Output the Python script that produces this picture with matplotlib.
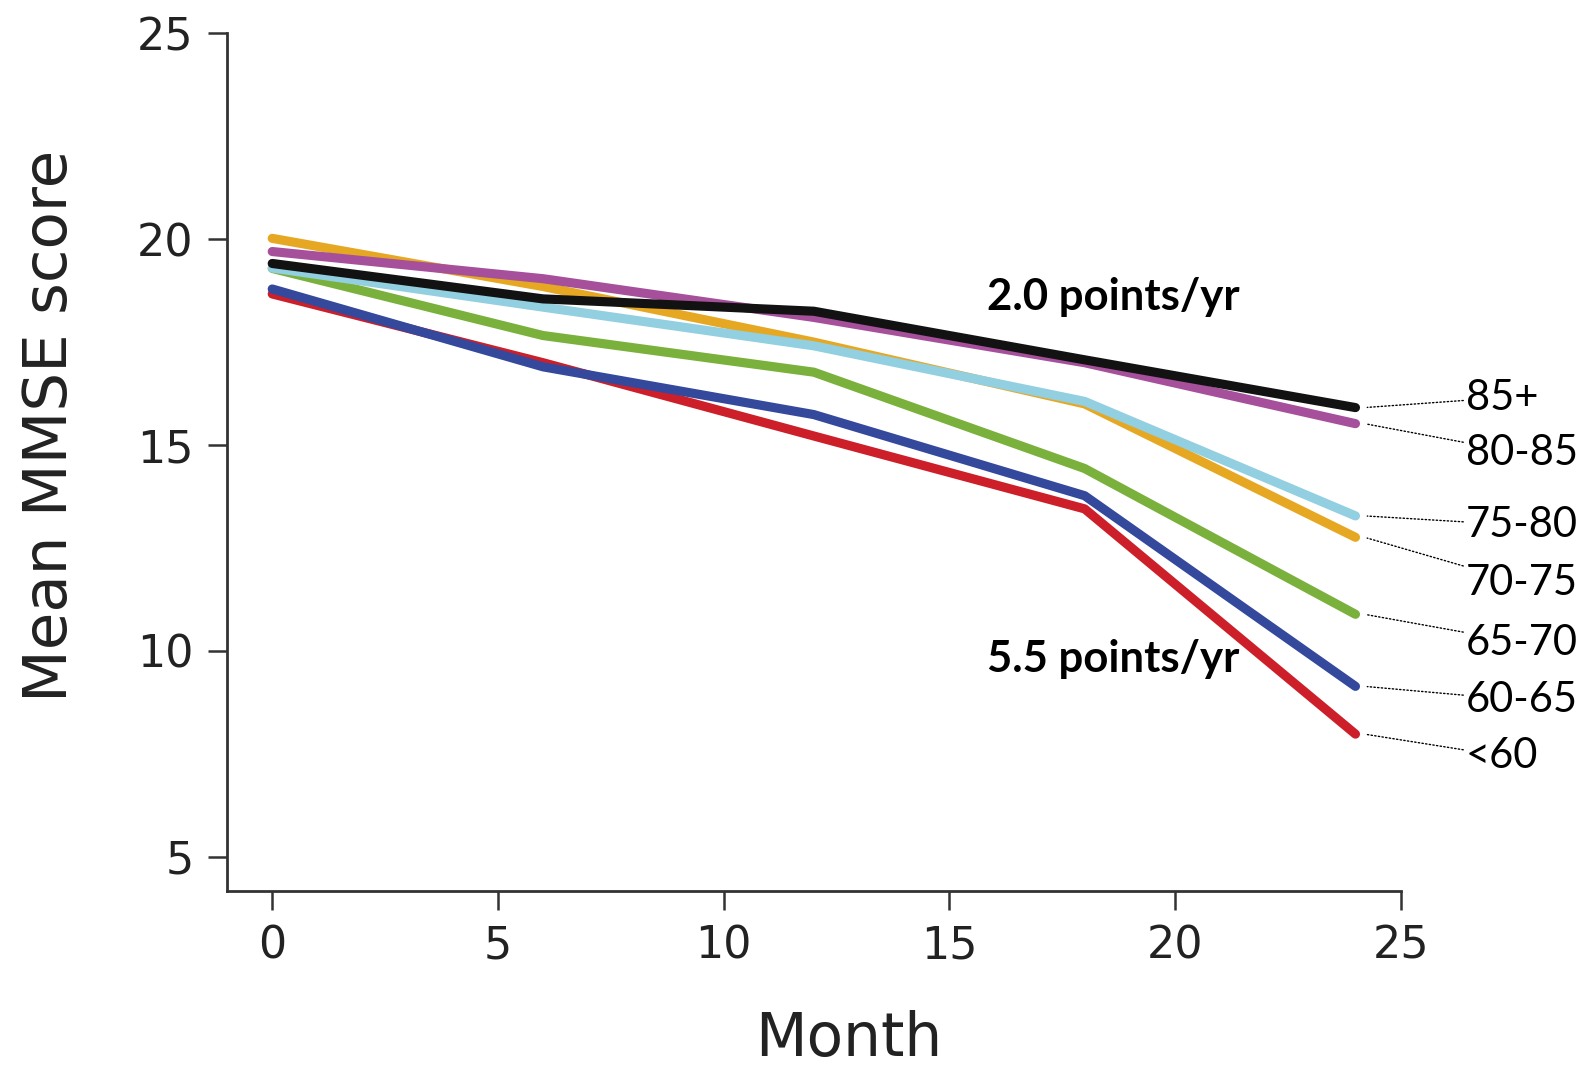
import numpy as np
import matplotlib.pyplot as plt

#============================================================
# Mean MMSE score over time by age group
#============================================================
months = [0, 6, 12, 18, 24]
groups = ['<60', '60-65', '65-70', '70-75', '75-80', '80-85', '85+']
scores = {
    '<60':   [18.67, 17.00, 15.22, 13.45, 7.98],
    '60-65': [18.79, 16.90, 15.74, 13.77, 9.14],
    '65-70': [19.29, 17.66, 16.77, 14.43, 10.89],
    '70-75': [20.02, 18.85, 17.50, 16.00, 12.76],
    '75-80': [19.30, 18.35, 17.41, 16.06, 13.28],
    '80-85': [19.70, 19.04, 18.10, 17.00, 15.52],
    '85+':   [19.41, 18.55, 18.25, 17.07, 15.91],
}
colors = {
    '<60': '#cc1f2a',
    '60-65': '#34489c',
    '65-70': '#7ab03c',
    '70-75': '#e6a823',
    '75-80': '#92cfe0',
    '80-85': '#a6509c',
    '85+': '#121212',
}
# y position of each right-hand label
label_y = [7.45, 8.8, 10.2, 11.65, 13.05, 14.8, 16.15]
rate_texts = ['2.0 points/yr', '5.5 points/yr']
rate_y = [18.6, 9.8]

fig = plt.figure(figsize=(15.88, 10.74), dpi=100)
ax = fig.add_axes([0.143, 0.170, 0.739, 0.799])

for g in groups:
    ax.plot(months, scores[g], color=colors[g], lw=6.6,
            solid_capstyle='round', solid_joinstyle='round')

# leader lines + labels
for g, ly in zip(groups, label_y):
    ax.annotate(g, xy=(24.2, scores[g][-1]), xytext=(26.45, ly),
                textcoords='data', fontsize=30, family='Lato',
                va='center', ha='left', annotation_clip=False,
                arrowprops=dict(arrowstyle='-', linestyle=':', lw=1.0,
                                color='black', shrinkA=0, shrinkB=2))

for t, ty in zip(rate_texts, rate_y):
    ax.text(15.83, ty, t, fontsize=31.5, fontweight='bold', family='Lato',
            va='center', ha='left')

ax.set_xlim(-1, 25)
ax.set_ylim(4.16, 25)
ax.set_xticks([0, 5, 10, 15, 20, 25])
ax.set_yticks([5, 10, 15, 20, 25])
for s in ['top', 'right']:
    ax.spines[s].set_visible(False)
for s in ['left', 'bottom']:
    ax.spines[s].set_linewidth(2)
    ax.spines[s].set_color('#333333')
ax.tick_params(axis='both', length=14, width=1.8, color='#333333',
               labelsize=32, pad=10, labelcolor='#222222')
for lab in ax.get_xticklabels() + ax.get_yticklabels():
    lab.set_family('DejaVu Sans')

ax.set_xlabel('Month', fontsize=43, family='DejaVu Sans', color='#222222')
ax.set_ylabel('Mean MMSE score', fontsize=44, family='DejaVu Sans', color='#222222')
ax.xaxis.set_label_coords(0.53, -0.138)
ax.yaxis.set_label_coords(-0.125, 0.543)

fig.savefig('out.png', dpi=100)
